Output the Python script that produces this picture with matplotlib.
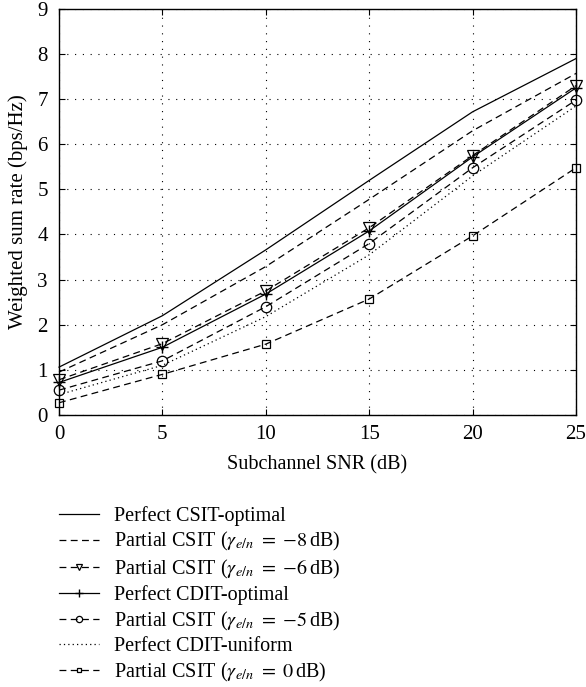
import matplotlib
matplotlib.use('Agg')
from matplotlib import pyplot as plt

plt.rcParams['font.family'] = ['Liberation Serif', 'DejaVu Serif']
plt.rcParams['mathtext.fontset'] = 'stix'

snr = [0, 5, 10, 15, 20, 25]
csit_opt = [1.06, 2.2, 3.66, 5.2, 6.72, 7.9]
partial_m8 = [0.95, 2.0, 3.29, 4.78, 6.3, 7.57]
partial_m6 = [0.78, 1.58, 2.75, 4.15, 5.75, 7.3]
cdit_opt = [0.72, 1.5, 2.68, 4.08, 5.72, 7.25]
partial_m5 = [0.55, 1.2, 2.4, 3.8, 5.48, 6.98]
cdit_uni = [0.45, 1.1, 2.18, 3.55, 5.3, 6.85]
partial_0 = [0.27, 0.9, 1.57, 2.57, 3.97, 5.48]

labels = ['Perfect CSIT-optimal',
          r'Partial CSIT ($\gamma_{e/n}$ $=$ $-8\,$dB)',
          r'Partial CSIT ($\gamma_{e/n}$ $=$ $-6\,$dB)',
          'Perfect CDIT-optimal',
          r'Partial CSIT ($\gamma_{e/n}$ $=$ $-5\,$dB)',
          'Perfect CDIT-uniform',
          r'Partial CSIT ($\gamma_{e/n}$ $=$ $0\,$dB)']

fig = plt.figure(figsize=(5.86, 6.87), dpi=100)
ax = fig.add_axes([0.1007, 0.396, 0.8823, 0.591])

dash = (0, (5.5, 3.5))
lw = 0.9
kw = dict(c='k', lw=lw, clip_on=False)
ax.plot(snr, csit_opt, label=labels[0], **kw)
ax.plot(snr, partial_m8, ls=dash, label=labels[1], **kw)
ax.plot(snr, partial_m6, ls=dash, marker='v', ms=8, mfc='none', mew=0.9,
        label=labels[2], **kw)
ax.plot(snr, cdit_opt, marker='+', ms=9, mew=1.0, label=labels[3], **kw)
ax.plot(snr, partial_m5, ls=dash, marker='o', ms=7.5, mfc='none', mew=0.9,
        label=labels[4], **kw)
ax.plot(snr, cdit_uni, ls=(0, (1, 2.5)), label=labels[5], **kw)
ax.plot(snr, partial_0, ls=dash, marker='s', ms=6, mfc='none', mew=0.9,
        label=labels[6], **kw)

ax.set_xlim(0, 25)
ax.set_ylim(0, 9)
ax.set_xticks(snr)
ax.set_yticks(range(10))
ax.grid(True, ls=(0, (1, 6)), c='k', lw=0.8)
ax.tick_params(direction='in', right=True, top=True, labelsize=15, length=4)
ax.tick_params(axis='x', pad=7)
ax.tick_params(axis='y', pad=8)
for s in ax.spines.values():
    s.set_linewidth(1.0)
ax.set_xlabel('Subchannel SNR (dB)', fontsize=14.5, labelpad=8)
ax.set_ylabel('Weighted sum rate (bps/Hz)', fontsize=15, labelpad=7)

handles, labs = ax.get_legend_handles_labels()
leg = fig.legend(handles, labs, loc='upper left',
                 bbox_to_anchor=(0.07, 0.29), frameon=False,
                 fontsize=14.5, handlelength=2.0, handletextpad=0.7,
                 labelspacing=0.22, markerscale=0.6)

fig.savefig('out.png', dpi=100)
